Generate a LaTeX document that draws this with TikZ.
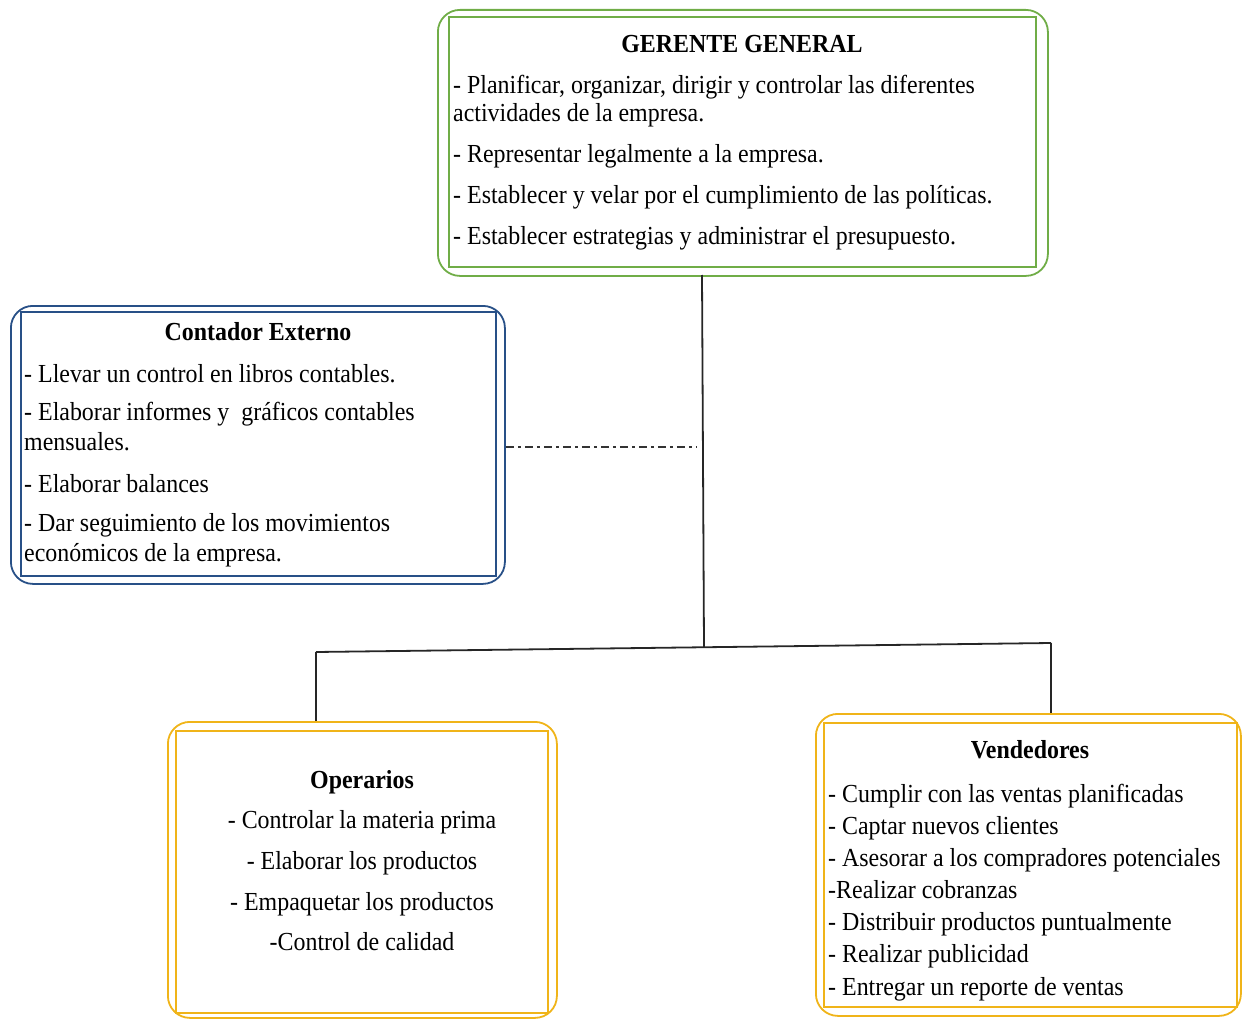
\documentclass[tikz,border=0pt]{standalone}
\usepackage{fontspec}
\setmainfont[FakeStretch=0.92]{Liberation Serif}
\definecolor{gGreen}{RGB}{112,173,71}
\definecolor{gBlue}{RGB}{40,80,135}
\definecolor{gGold}{RGB}{240,180,25}
\begin{document}
\begin{tikzpicture}[x=1pt,y=-1pt,
  inbox/.style={draw, line width=1.8pt, inner sep=0pt, anchor=north west},
  outbox/.style={draw, line width=1.8pt, rounded corners=22pt, inner sep=0pt, anchor=north west},
  txt/.style={anchor=base west, inner sep=0pt, font=\fontsize{26}{30}\selectfont},
  ctxt/.style={anchor=base, inner sep=0pt, font=\fontsize{26}{30}\selectfont},
  ttl/.style={anchor=base, inner sep=0pt, font=\fontsize{26}{30}\selectfont\bfseries},
  link/.style={draw=black!85, line width=1.8pt},
  aux/.style={draw=black!80, line width=2pt, dash pattern=on 8pt off 4pt on 3pt off 4pt},
]
\useasboundingbox (0,0) rectangle (1242,1019);

% ---- Gerente general ----
\node[outbox, draw=gGreen, minimum width=610pt, minimum height=266pt] (gg-out) at (437,9) {};
\node[inbox, draw=gGreen, minimum width=587pt, minimum height=250pt] (gg) at (448,16) {};
\node[ttl] (gg-t) at (742,53) {GERENTE GENERAL};
\node[txt] (gg-1) at (453,94) {- Planificar, organizar, dirigir y controlar las diferentes};
\node[txt] (gg-1b) at (453,122) {actividades de la empresa.};
\node[txt] (gg-2) at (453,163) {- Representar legalmente a la empresa.};
\node[txt] (gg-3) at (453,204) {- Establecer y velar por el cumplimiento de las políticas.};
\node[txt] (gg-4) at (453,244) {- Establecer estrategias y administrar el presupuesto.};

% ---- Contador externo ----
\node[outbox, draw=gBlue, minimum width=494pt, minimum height=278pt] (ce-out) at (10,305) {};
\node[inbox, draw=gBlue, minimum width=475pt, minimum height=264pt] (ce) at (20,311) {};
\node[ttl] (ce-t) at (258,340) {Contador Externo};
\node[txt] (ce-1) at (24,382) {- Llevar un control en libros contables.};
\node[txt] (ce-2) at (24,420) {- Elaborar informes y\ \ gráficos contables};
\node[txt] (ce-2b) at (24,450) {mensuales.};
\node[txt] (ce-3) at (24,492) {- Elaborar balances};
\node[txt] (ce-4) at (24,531) {- Dar seguimiento de los movimientos};
\node[txt] (ce-4b) at (24,561) {económicos de la empresa.};

% ---- Operarios ----
\node[outbox, draw=gGold, minimum width=389pt, minimum height=296pt] (op-out) at (167,721) {};
\node[inbox, draw=gGold, minimum width=372pt, minimum height=282pt] (op) at (175,730) {};
\node[ttl] (op-t) at (362,788) {Operarios};
\node[ctxt] (op-1) at (362,828) {- Controlar la materia prima};
\node[ctxt] (op-2) at (362,869) {- Elaborar los productos};
\node[ctxt] (op-3) at (362,910) {- Empaquetar los productos};
\node[ctxt] (op-4) at (362,950) {-Control de calidad};

% ---- Vendedores ----
\node[outbox, draw=gGold, minimum width=425pt, minimum height=302pt] (ve-out) at (815,713) {};
\node[inbox, draw=gGold, minimum width=413pt, minimum height=284pt] (ve) at (823,722) {};
\node[ttl] (ve-t) at (1030,758) {Vendedores};
\node[txt] (ve-1) at (828,802) {- Cumplir con las ventas planificadas};
\node[txt] (ve-2) at (828,834) {- Captar nuevos clientes};
\node[txt] (ve-3) at (828,866) {- Asesorar a los compradores potenciales};
\node[txt] (ve-4) at (828,898) {-Realizar cobranzas};
\node[txt] (ve-5) at (828,930) {- Distribuir productos puntualmente};
\node[txt] (ve-6) at (828,962) {- Realizar publicidad};
\node[txt] (ve-7) at (828,995) {- Entregar un reporte de ventas};

% ---- Connectors ----
\coordinate (top) at (702,275);
\coordinate (bus) at (704,647);
\coordinate (busL) at (316,652);
\coordinate (busR) at (1051,643);
\coordinate (auxEnd) at (696,447);
\draw[link] (top) -- (bus);
\draw[link] (busL) -- (busR);
\draw[link] (busL) -- (busL |- op-out.north);
\draw[link] (busR) -- (busR |- ve-out.north);
\draw[aux] (ce-out.east |- auxEnd) -- (auxEnd);
\end{tikzpicture}
\end{document}
